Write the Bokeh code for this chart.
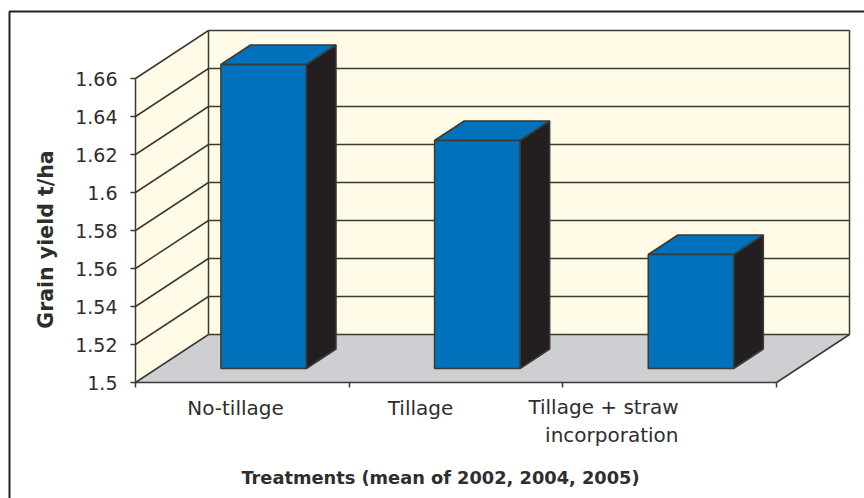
import math
from bokeh.plotting import figure
from bokeh.embed import file_html
from bokeh.resources import INLINE
from bokeh.models import FixedTicker, BoxAnnotation
from bokeh.core.properties import value

categories = ["No-tillage", "Tillage", "Tillage + straw\nincorporation"]
values = [1.66, 1.62, 1.56]
y_ticks = [1.5, 1.52, 1.54, 1.56, 1.58, 1.6, 1.62, 1.64, 1.66]
y_tick_labels = ["1.5", "1.52", "1.54", "1.56", "1.58", "1.6", "1.62", "1.64", "1.66"]
y_title = "Grain yield t/ha"
x_title = "Treatments (mean of 2002, 2004, 2005)"

W, H = 864, 498
PX0, PY0 = 135, 382  # page position of the axes origin
XU = 213.67          # px per category
YU = 1900.0          # px per y unit
DX = 73 / XU         # depth offset in data units
DY = 48 / YU
BAR_W = 0.4
D0, D1 = 14 / 48, 33.5 / 48
LINE = "#3b3a32"
DARK = "#231f20"
WALL = "#fffbe6"
FLOOR = "#cdcfd2"
BLUE = "#0072bc"
FONT = "DejaVu Sans"
TEXT = "#2e2e2e"

def xd(px): return (px - PX0) / XU
def yd(py): return y_ticks[0] + (PY0 - py) / YU

n = len(categories)
y0, y1 = y_ticks[0], y_ticks[-1]

p = figure(width=W, height=H, output_backend="svg", toolbar_location=None,
           x_range=(xd(0), xd(W)), y_range=(yd(H), yd(0)),
           min_border_left=0, min_border_bottom=0, min_border_top=0, min_border_right=0)
p.grid.visible = False
p.outline_line_color = None

def P(x, y, d=0.0):
    return x + d * DX, y + d * DY

def poly(pts, **kw):
    xs, ys = zip(*pts)
    p.patch(list(xs), list(ys), **kw)

def seg(a, b, color=LINE, w=1.5):
    p.line([a[0], b[0]], [a[1], b[1]], line_color=color, line_width=w)

# side wall, back wall, floor
poly([P(0, y0), P(0, y1), P(0, y1, 1), P(0, y0, 1)], fill_color=WALL, line_color=None)
poly([P(0, y0, 1), P(0, y1, 1), P(n, y1, 1), P(n, y0, 1)], fill_color=WALL, line_color=None)
poly([P(0, y0), P(n, y0), P(n, y0, 1), P(0, y0, 1)], fill_color=FLOOR, line_color=None)
for t in y_ticks:
    seg(P(0, t), P(0, t, 1))
    seg(P(0, t, 1), P(n, t, 1))
seg(P(0, y0, 1), P(0, y1, 1))
seg(P(n, y0, 1), P(n, y1, 1))
seg(P(n, y0), P(n, y0, 1))

# bars
for i, v in enumerate(values):
    l = i + (1 - BAR_W) / 2
    r = l + BAR_W
    poly([P(r, y0, D0), P(r, v, D0), P(r, v, D1), P(r, y0, D1)],
         fill_color=DARK, line_color=LINE, line_width=1.5)
    poly([P(l, v, D0), P(r, v, D0), P(r, v, D1), P(l, v, D1)],
         fill_color=BLUE, line_color=LINE, line_width=1.5)
    poly([P(l, y0, D0), P(r, y0, D0), P(r, v, D0), P(l, v, D0)],
         fill_color=BLUE, line_color=LINE, line_width=1.5)

# real axes, pinned inside the full-page frame
ya = p.yaxis[0]
ya.fixed_location = 0
ya.ticker = FixedTicker(ticks=y_ticks)
ya.major_label_overrides = dict(zip(y_ticks, y_tick_labels))
ya.bounds = (y0, y1)
ya.major_tick_out = 5
ya.major_tick_in = 0
ya.minor_tick_line_color = None
ya.axis_line_color = LINE
ya.axis_line_width = 1.5
ya.major_tick_line_color = LINE
ya.major_tick_line_width = 1.5
ya.major_label_standoff = 13
ya.major_label_text_font = FONT
ya.major_label_text_font_size = "19px"
ya.major_label_text_color = TEXT

xa = p.xaxis[0]
xa.fixed_location = y0
xa.ticker = FixedTicker(ticks=list(range(n + 1)))
xa.major_label_overrides = {i: "" for i in range(n + 1)}
xa.bounds = (0, n)
xa.major_tick_out = 5
xa.major_tick_in = 0
xa.minor_tick_line_color = None
xa.axis_line_color = LINE
xa.axis_line_width = 1.5
xa.major_tick_line_color = LINE
xa.major_tick_line_width = 1.5

def label(px, py, t, align="center", size="20px", style="normal", angle=0.0, base="middle"):
    p.text([xd(px)], [yd(py)], text=[t], text_align=align, text_baseline=base,
           text_font=value(FONT), text_font_size=size, text_font_style=style,
           text_color=TEXT, angle=angle)

label(235, 407, categories[0])
label(420, 407, categories[1])
p.text([xd(678)], [yd(394)], text=[categories[2]], text_align="right", text_baseline="top",
       text_font=value(FONT), text_font_size="20px", text_color=TEXT, text_line_height=1.2)
label(440, 477, x_title, size="17.8px", style="bold")
label(45, 239, y_title, size="20.5px", style="bold", angle=math.pi / 2)

p.add_layout(BoxAnnotation(left=9, right=W + 40, top=H - 11, bottom=-40,
                           left_units="screen", right_units="screen",
                           top_units="screen", bottom_units="screen",
                           fill_color=None, line_color=DARK, line_alpha=1.0, line_width=2))

open("out.html", "w").write(file_html(p, INLINE))
